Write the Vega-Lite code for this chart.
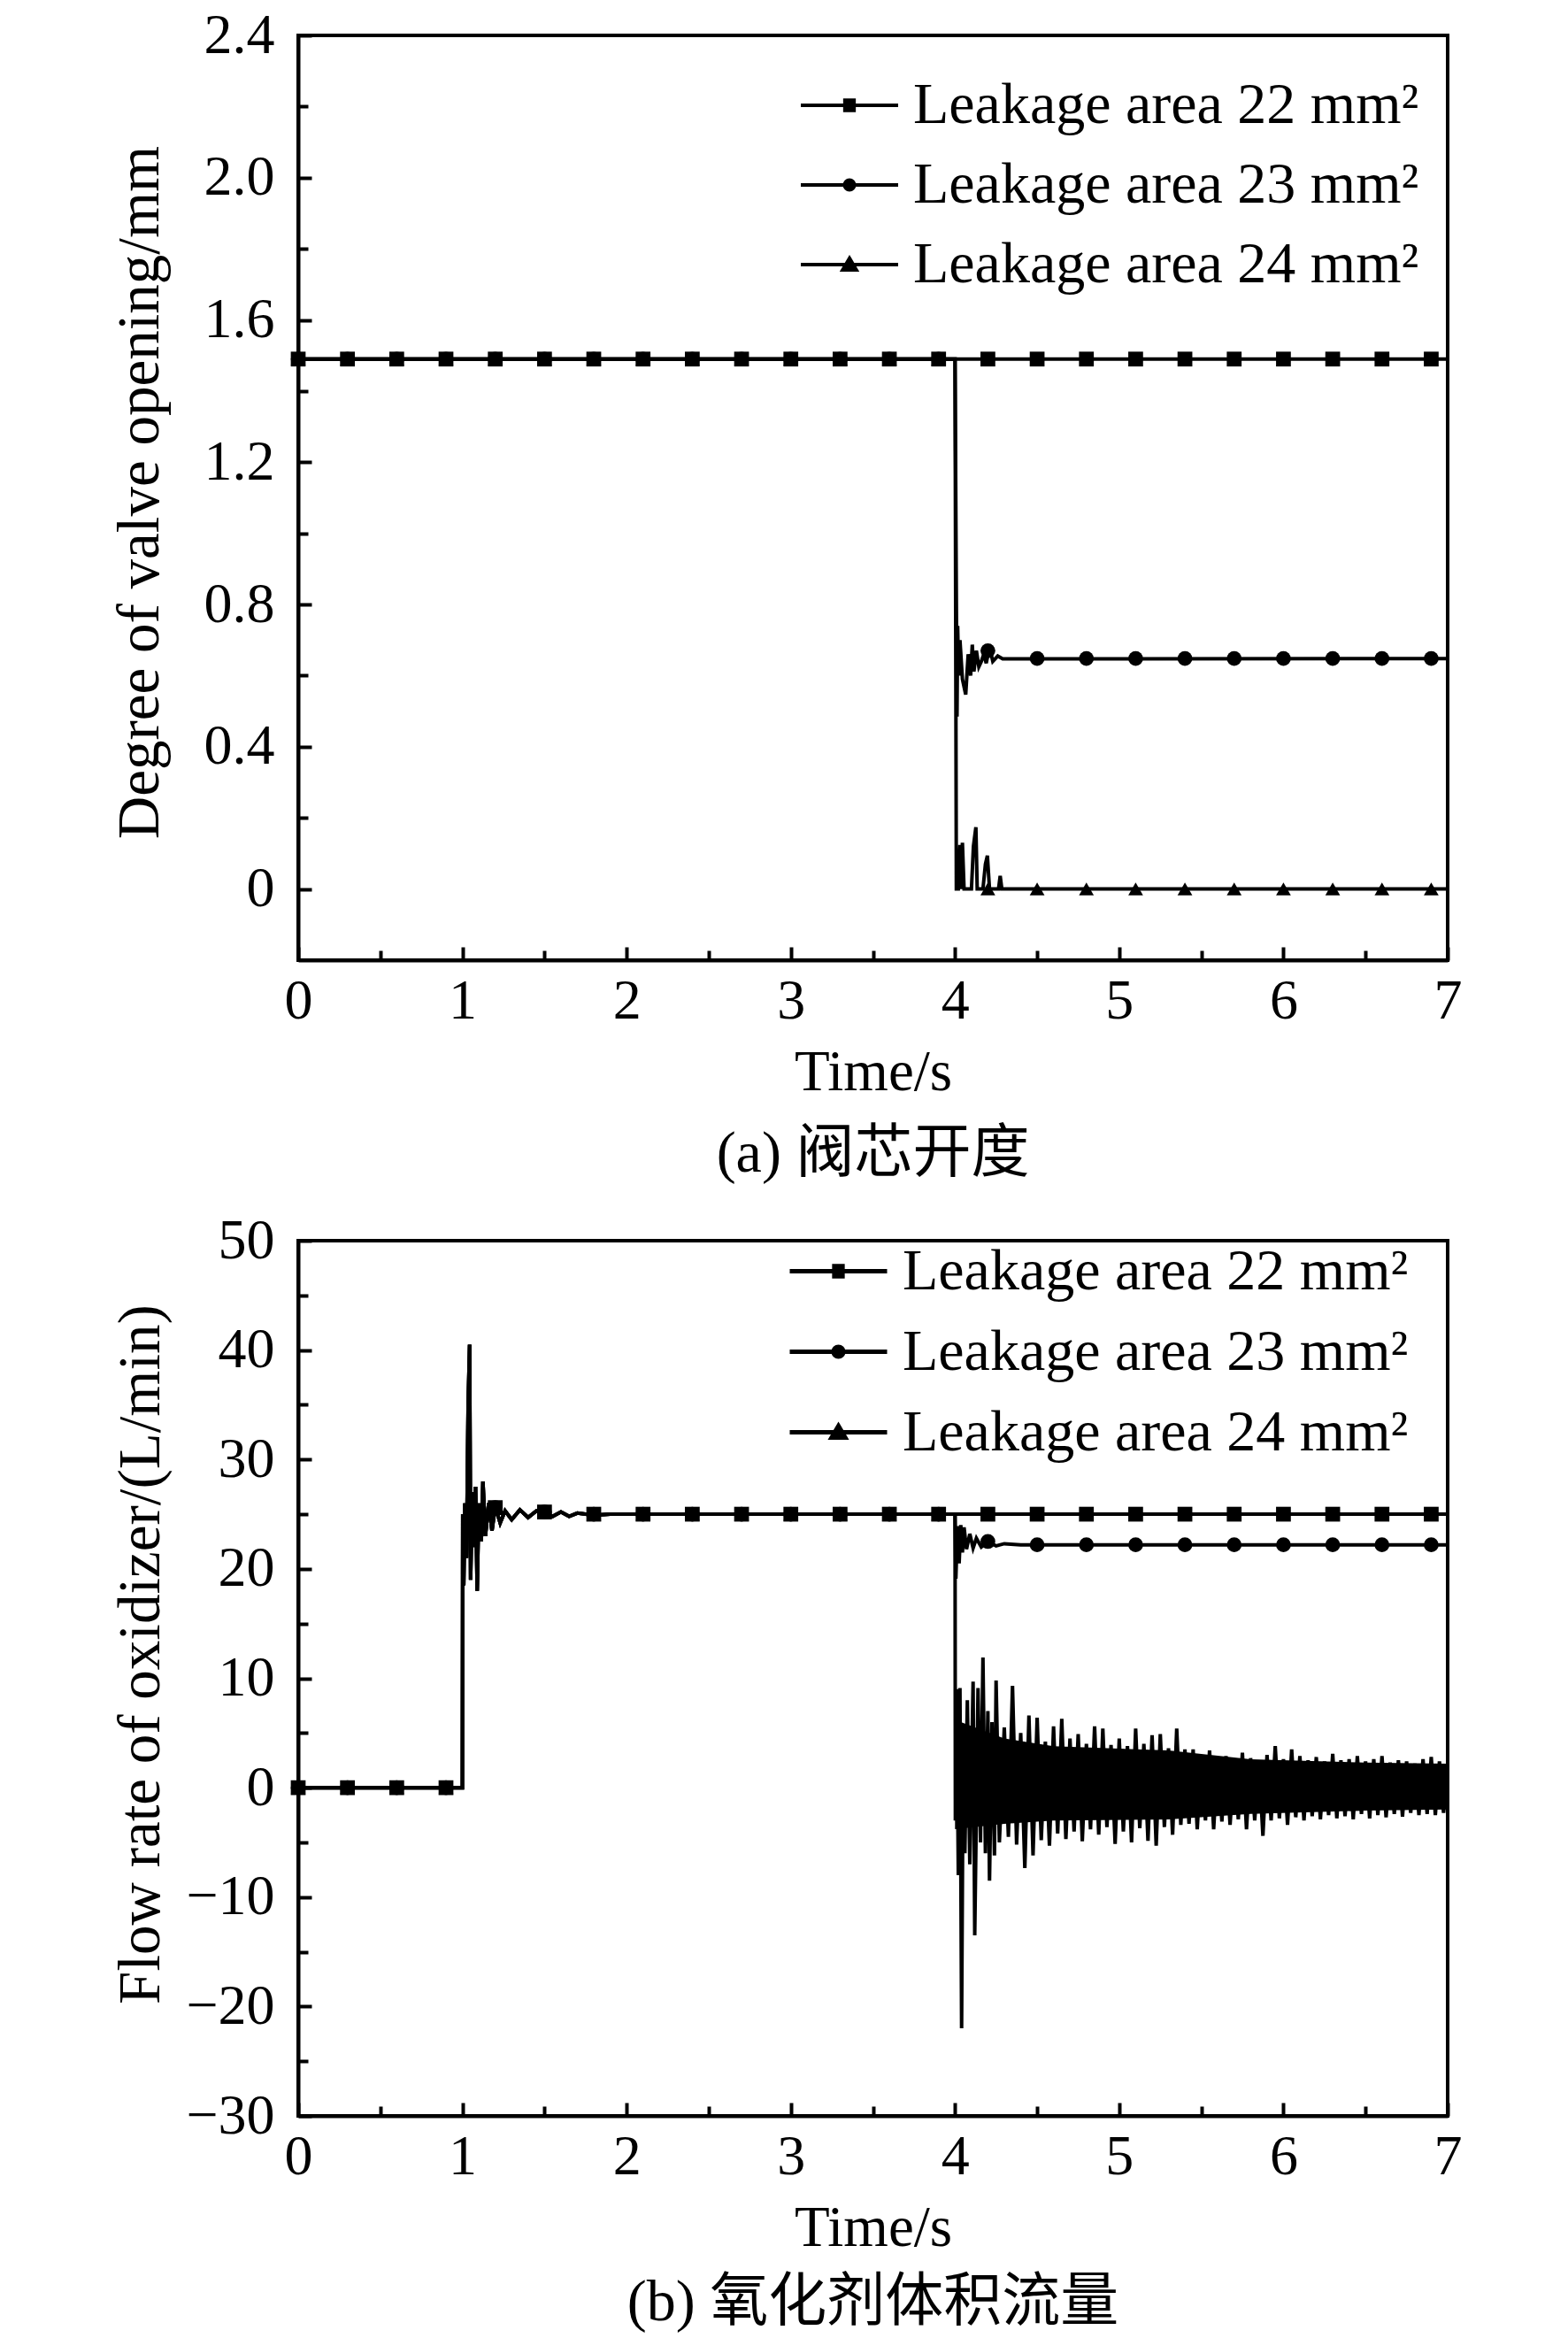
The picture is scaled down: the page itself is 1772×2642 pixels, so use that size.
{
  "$schema": "https://vega.github.io/schema/vega-lite/v6.json",
  "description": "Valve opening and oxidizer flow rate for three leakage areas",
  "background": "white",
  "padding": {"left": 122, "top": 6, "right": 0, "bottom": 0},
  "config": {
    "font": "Liberation Serif",
    "view": {"stroke": "black", "strokeWidth": 4},
    "axis": {
      "grid": false,
      "domainColor": "black",
      "domainWidth": 4,
      "tickColor": "black",
      "tickWidth": 4,
      "labelFont": "Liberation Serif",
      "labelFontSize": 64,
      "labelColor": "black",
      "labelFlush": false,
      "labelOverlap": false,
      "titleFont": "Liberation Serif",
      "titleFontSize": 65,
      "titleFontWeight": "normal",
      "titleColor": "black"
    },
    "axisY": {"titleFontSize": 67},
    "title": {"font": "Liberation Serif, Noto Sans CJK SC", "fontSize": 66, "fontWeight": "normal", "color": "black"},
    "concat": {"spacing": 29}
  },
  "datasets": {
    "valve_line": [
      {"s": 22, "t": 0, "v": 1.49}, {"s": 22, "t": 7, "v": 1.49},
      {"s": 23, "t": 0, "v": 1.49}, {"s": 23, "t": 4.0, "v": 1.49}, {"s": 23, "t": 4.012, "v": 0.485}, {"s": 23, "t": 4.016, "v": 0.74},
      {"s": 23, "t": 4.022, "v": 0.6}, {"s": 23, "t": 4.03, "v": 0.7}, {"s": 23, "t": 4.045, "v": 0.59}, {"s": 23, "t": 4.065, "v": 0.547},
      {"s": 23, "t": 4.08, "v": 0.66}, {"s": 23, "t": 4.095, "v": 0.6}, {"s": 23, "t": 4.105, "v": 0.687}, {"s": 23, "t": 4.115, "v": 0.612},
      {"s": 23, "t": 4.13, "v": 0.67}, {"s": 23, "t": 4.145, "v": 0.625}, {"s": 23, "t": 4.16, "v": 0.64}, {"s": 23, "t": 4.175, "v": 0.66},
      {"s": 23, "t": 4.19, "v": 0.635}, {"s": 23, "t": 4.21, "v": 0.68}, {"s": 23, "t": 4.23, "v": 0.64}, {"s": 23, "t": 4.26, "v": 0.655},
      {"s": 23, "t": 4.29, "v": 0.647}, {"s": 23, "t": 7, "v": 0.648},
      {"s": 24, "t": 0, "v": 1.49}, {"s": 24, "t": 4.0, "v": 1.49}, {"s": 24, "t": 4.008, "v": 0}, {"s": 24, "t": 4.02, "v": 0},
      {"s": 24, "t": 4.03, "v": 0.124}, {"s": 24, "t": 4.036, "v": 0}, {"s": 24, "t": 4.045, "v": 0.13}, {"s": 24, "t": 4.055, "v": 0},
      {"s": 24, "t": 4.1, "v": 0}, {"s": 24, "t": 4.112, "v": 0.12}, {"s": 24, "t": 4.127, "v": 0.174}, {"s": 24, "t": 4.135, "v": 0},
      {"s": 24, "t": 4.17, "v": 0}, {"s": 24, "t": 4.185, "v": 0.07}, {"s": 24, "t": 4.197, "v": 0.094}, {"s": 24, "t": 4.21, "v": 0},
      {"s": 24, "t": 4.265, "v": 0}, {"s": 24, "t": 4.275, "v": 0.037}, {"s": 24, "t": 4.285, "v": 0}, {"s": 24, "t": 7, "v": 0}
    ],
    "valve_marks": [
      {"s": 22, "t": 0, "v": 1.49}, {"s": 22, "t": 0.3, "v": 1.49}, {"s": 22, "t": 0.6, "v": 1.49}, {"s": 22, "t": 0.9, "v": 1.49},
      {"s": 22, "t": 1.2, "v": 1.49}, {"s": 22, "t": 1.5, "v": 1.49}, {"s": 22, "t": 1.8, "v": 1.49}, {"s": 22, "t": 2.1, "v": 1.49},
      {"s": 22, "t": 2.4, "v": 1.49}, {"s": 22, "t": 2.7, "v": 1.49}, {"s": 22, "t": 3.0, "v": 1.49}, {"s": 22, "t": 3.3, "v": 1.49},
      {"s": 22, "t": 3.6, "v": 1.49}, {"s": 22, "t": 3.9, "v": 1.49}, {"s": 22, "t": 4.2, "v": 1.49}, {"s": 22, "t": 4.5, "v": 1.49},
      {"s": 22, "t": 4.8, "v": 1.49}, {"s": 22, "t": 5.1, "v": 1.49}, {"s": 22, "t": 5.4, "v": 1.49}, {"s": 22, "t": 5.7, "v": 1.49},
      {"s": 22, "t": 6.0, "v": 1.49}, {"s": 22, "t": 6.3, "v": 1.49}, {"s": 22, "t": 6.6, "v": 1.49}, {"s": 22, "t": 6.9, "v": 1.49},
      {"s": 23, "t": 0, "v": 1.49}, {"s": 23, "t": 0.3, "v": 1.49}, {"s": 23, "t": 0.6, "v": 1.49}, {"s": 23, "t": 0.9, "v": 1.49},
      {"s": 23, "t": 1.2, "v": 1.49}, {"s": 23, "t": 1.5, "v": 1.49}, {"s": 23, "t": 1.8, "v": 1.49}, {"s": 23, "t": 2.1, "v": 1.49},
      {"s": 23, "t": 2.4, "v": 1.49}, {"s": 23, "t": 2.7, "v": 1.49}, {"s": 23, "t": 3.0, "v": 1.49}, {"s": 23, "t": 3.3, "v": 1.49},
      {"s": 23, "t": 3.6, "v": 1.49}, {"s": 23, "t": 3.9, "v": 1.49}, {"s": 23, "t": 4.2, "v": 0.67}, {"s": 23, "t": 4.5, "v": 0.648},
      {"s": 23, "t": 4.8, "v": 0.648}, {"s": 23, "t": 5.1, "v": 0.648}, {"s": 23, "t": 5.4, "v": 0.648}, {"s": 23, "t": 5.7, "v": 0.648},
      {"s": 23, "t": 6.0, "v": 0.648}, {"s": 23, "t": 6.3, "v": 0.648}, {"s": 23, "t": 6.6, "v": 0.648}, {"s": 23, "t": 6.9, "v": 0.648},
      {"s": 24, "t": 0, "v": 1.49}, {"s": 24, "t": 0.3, "v": 1.49}, {"s": 24, "t": 0.6, "v": 1.49}, {"s": 24, "t": 0.9, "v": 1.49},
      {"s": 24, "t": 1.2, "v": 1.49}, {"s": 24, "t": 1.5, "v": 1.49}, {"s": 24, "t": 1.8, "v": 1.49}, {"s": 24, "t": 2.1, "v": 1.49},
      {"s": 24, "t": 2.4, "v": 1.49}, {"s": 24, "t": 2.7, "v": 1.49}, {"s": 24, "t": 3.0, "v": 1.49}, {"s": 24, "t": 3.3, "v": 1.49},
      {"s": 24, "t": 3.6, "v": 1.49}, {"s": 24, "t": 3.9, "v": 1.49}, {"s": 24, "t": 4.2, "v": 0}, {"s": 24, "t": 4.5, "v": 0},
      {"s": 24, "t": 4.8, "v": 0}, {"s": 24, "t": 5.1, "v": 0}, {"s": 24, "t": 5.4, "v": 0}, {"s": 24, "t": 5.7, "v": 0},
      {"s": 24, "t": 6.0, "v": 0}, {"s": 24, "t": 6.3, "v": 0}, {"s": 24, "t": 6.6, "v": 0}, {"s": 24, "t": 6.9, "v": 0}
    ],
    "flow_line": [
      {"s": 22, "t": 0, "v": 0}, {"s": 22, "t": 1.0, "v": 0}, {"s": 22, "t": 1.002, "v": 25}, {"s": 22, "t": 1.008, "v": 18.5},
      {"s": 22, "t": 1.015, "v": 26}, {"s": 22, "t": 1.025, "v": 21}, {"s": 22, "t": 1.035, "v": 35}, {"s": 22, "t": 1.044, "v": 40.5},
      {"s": 22, "t": 1.05, "v": 19}, {"s": 22, "t": 1.06, "v": 27}, {"s": 22, "t": 1.07, "v": 22}, {"s": 22, "t": 1.08, "v": 27.5},
      {"s": 22, "t": 1.09, "v": 18}, {"s": 22, "t": 1.1, "v": 26}, {"s": 22, "t": 1.115, "v": 22.5}, {"s": 22, "t": 1.125, "v": 28},
      {"s": 22, "t": 1.14, "v": 23}, {"s": 22, "t": 1.16, "v": 26}, {"s": 22, "t": 1.18, "v": 23.5}, {"s": 22, "t": 1.2, "v": 25.7},
      {"s": 22, "t": 1.23, "v": 24.2}, {"s": 22, "t": 1.26, "v": 25.3}, {"s": 22, "t": 1.3, "v": 24.5}, {"s": 22, "t": 1.35, "v": 25.4},
      {"s": 22, "t": 1.4, "v": 24.7}, {"s": 22, "t": 1.45, "v": 25.3}, {"s": 22, "t": 1.5, "v": 25.1}, {"s": 22, "t": 1.55, "v": 24.8},
      {"s": 22, "t": 1.6, "v": 25.2}, {"s": 22, "t": 1.65, "v": 24.8}, {"s": 22, "t": 1.7, "v": 25.1}, {"s": 22, "t": 1.8, "v": 24.9},
      {"s": 22, "t": 1.9, "v": 25}, {"s": 22, "t": 7, "v": 25},
      {"s": 23, "t": 0, "v": 0}, {"s": 23, "t": 1.0, "v": 0}, {"s": 23, "t": 1.002, "v": 25}, {"s": 23, "t": 1.008, "v": 18.5},
      {"s": 23, "t": 1.015, "v": 26}, {"s": 23, "t": 1.025, "v": 21}, {"s": 23, "t": 1.035, "v": 35}, {"s": 23, "t": 1.044, "v": 40.5},
      {"s": 23, "t": 1.05, "v": 19}, {"s": 23, "t": 1.06, "v": 27}, {"s": 23, "t": 1.07, "v": 22}, {"s": 23, "t": 1.08, "v": 27.5},
      {"s": 23, "t": 1.09, "v": 18}, {"s": 23, "t": 1.1, "v": 26}, {"s": 23, "t": 1.115, "v": 22.5}, {"s": 23, "t": 1.125, "v": 28},
      {"s": 23, "t": 1.14, "v": 23}, {"s": 23, "t": 1.16, "v": 26}, {"s": 23, "t": 1.18, "v": 23.5}, {"s": 23, "t": 1.2, "v": 25.7},
      {"s": 23, "t": 1.23, "v": 24.2}, {"s": 23, "t": 1.26, "v": 25.3}, {"s": 23, "t": 1.3, "v": 24.5}, {"s": 23, "t": 1.35, "v": 25.4},
      {"s": 23, "t": 1.4, "v": 24.7}, {"s": 23, "t": 1.45, "v": 25.3}, {"s": 23, "t": 1.5, "v": 25.1}, {"s": 23, "t": 1.55, "v": 24.8},
      {"s": 23, "t": 1.6, "v": 25.2}, {"s": 23, "t": 1.65, "v": 24.8}, {"s": 23, "t": 1.7, "v": 25.1}, {"s": 23, "t": 1.8, "v": 24.9},
      {"s": 23, "t": 1.9, "v": 25}, {"s": 23, "t": 4.0, "v": 25}, {"s": 23, "t": 4.005, "v": 19.1}, {"s": 23, "t": 4.015, "v": 23.9},
      {"s": 23, "t": 4.025, "v": 20.5}, {"s": 23, "t": 4.035, "v": 24}, {"s": 23, "t": 4.045, "v": 21.5}, {"s": 23, "t": 4.055, "v": 23.8},
      {"s": 23, "t": 4.07, "v": 21.8}, {"s": 23, "t": 4.09, "v": 23.2}, {"s": 23, "t": 4.11, "v": 21.9}, {"s": 23, "t": 4.13, "v": 22.8},
      {"s": 23, "t": 4.16, "v": 22}, {"s": 23, "t": 4.2, "v": 22.5}, {"s": 23, "t": 4.25, "v": 22.1}, {"s": 23, "t": 4.3, "v": 22.3},
      {"s": 23, "t": 4.4, "v": 22.2}, {"s": 23, "t": 7, "v": 22.2},
      {"s": 24, "t": 0, "v": 0}, {"s": 24, "t": 1.0, "v": 0}, {"s": 24, "t": 1.002, "v": 25}, {"s": 24, "t": 1.008, "v": 18.5},
      {"s": 24, "t": 1.015, "v": 26}, {"s": 24, "t": 1.025, "v": 21}, {"s": 24, "t": 1.035, "v": 35}, {"s": 24, "t": 1.044, "v": 40.5},
      {"s": 24, "t": 1.05, "v": 19}, {"s": 24, "t": 1.06, "v": 27}, {"s": 24, "t": 1.07, "v": 22}, {"s": 24, "t": 1.08, "v": 27.5},
      {"s": 24, "t": 1.09, "v": 18}, {"s": 24, "t": 1.1, "v": 26}, {"s": 24, "t": 1.115, "v": 22.5}, {"s": 24, "t": 1.125, "v": 28},
      {"s": 24, "t": 1.14, "v": 23}, {"s": 24, "t": 1.16, "v": 26}, {"s": 24, "t": 1.18, "v": 23.5}, {"s": 24, "t": 1.2, "v": 25.7},
      {"s": 24, "t": 1.23, "v": 24.2}, {"s": 24, "t": 1.26, "v": 25.3}, {"s": 24, "t": 1.3, "v": 24.5}, {"s": 24, "t": 1.35, "v": 25.4},
      {"s": 24, "t": 1.4, "v": 24.7}, {"s": 24, "t": 1.45, "v": 25.3}, {"s": 24, "t": 1.5, "v": 25.1}, {"s": 24, "t": 1.55, "v": 24.8},
      {"s": 24, "t": 1.6, "v": 25.2}, {"s": 24, "t": 1.65, "v": 24.8}, {"s": 24, "t": 1.7, "v": 25.1}, {"s": 24, "t": 1.8, "v": 24.9},
      {"s": 24, "t": 1.9, "v": 25}, {"s": 24, "t": 4.0, "v": 25},
      {"s": 24, "t": 4.002, "v": -3}, {"s": 24, "t": 4.01, "v": 9}, {"s": 24, "t": 4.02, "v": -8}, {"s": 24, "t": 4.03, "v": 9.1},
      {"s": 24, "t": 4.04, "v": -22}, {"s": 24, "t": 4.05, "v": 5}, {"s": 24, "t": 4.06, "v": -6}, {"s": 24, "t": 4.075, "v": 8},
      {"s": 24, "t": 4.09, "v": -7}, {"s": 24, "t": 4.11, "v": 9.7}, {"s": 24, "t": 4.12, "v": -13.5}, {"s": 24, "t": 4.14, "v": 9.1},
      {"s": 24, "t": 4.155, "v": -5}, {"s": 24, "t": 4.17, "v": 11.9}, {"s": 24, "t": 4.185, "v": -6}, {"s": 24, "t": 4.2, "v": 7},
      {"s": 24, "t": 4.21, "v": -8.5}, {"s": 24, "t": 4.225, "v": 6}, {"s": 24, "t": 4.24, "v": -6.2}, {"s": 24, "t": 4.25, "v": 9.8},
      {"s": 24, "t": 4.27, "v": -5}, {"s": 24, "t": 4.3, "v": 5.5}, {"s": 24, "t": 4.325, "v": -4.5}, {"s": 24, "t": 4.35, "v": 9.3},
      {"s": 24, "t": 4.375, "v": -5.2}, {"s": 24, "t": 4.4, "v": 5.0}, {"s": 24, "t": 4.425, "v": -7.35}, {"s": 24, "t": 4.45, "v": 6.6},
      {"s": 24, "t": 4.475, "v": -6.2}, {"s": 24, "t": 4.5, "v": 6.4}, {"s": 24, "t": 4.525, "v": -4.8}, {"s": 24, "t": 4.55, "v": 4.2},
      {"s": 24, "t": 4.575, "v": -5.3}, {"s": 24, "t": 4.6, "v": 5.6}, {"s": 24, "t": 4.625, "v": -4.2}, {"s": 24, "t": 4.65, "v": 6.3},
      {"s": 24, "t": 4.675, "v": -4.7}, {"s": 24, "t": 4.7, "v": 4.5}, {"s": 24, "t": 4.725, "v": -4.0}, {"s": 24, "t": 4.75, "v": 4.9},
      {"s": 24, "t": 4.775, "v": -4.9}, {"s": 24, "t": 4.8, "v": 4.0}, {"s": 24, "t": 4.825, "v": -3.8}, {"s": 24, "t": 4.85, "v": 5.6},
      {"s": 24, "t": 4.875, "v": -4.3}, {"s": 24, "t": 4.9, "v": 5.4}, {"s": 24, "t": 4.925, "v": -3.6}, {"s": 24, "t": 4.95, "v": 3.9},
      {"s": 24, "t": 4.975, "v": -5.15}, {"s": 24, "t": 5.0, "v": 4.5}, {"s": 24, "t": 5.025, "v": -4.0}, {"s": 24, "t": 5.05, "v": 3.8},
      {"s": 24, "t": 5.075, "v": -5.0}, {"s": 24, "t": 5.1, "v": 5.4}, {"s": 24, "t": 5.125, "v": -3.7}, {"s": 24, "t": 5.15, "v": 4.0},
      {"s": 24, "t": 5.175, "v": -4.85}, {"s": 24, "t": 5.2, "v": 4.8}, {"s": 24, "t": 5.225, "v": -5.3}, {"s": 24, "t": 5.25, "v": 4.9},
      {"s": 24, "t": 5.275, "v": -3.6}, {"s": 24, "t": 5.3, "v": 3.6}, {"s": 24, "t": 5.325, "v": -4.3}, {"s": 24, "t": 5.35, "v": 5.4},
      {"s": 24, "t": 5.375, "v": -3.4}, {"s": 24, "t": 5.4, "v": 3.5}, {"s": 24, "t": 5.425, "v": -3.3}, {"s": 24, "t": 5.45, "v": 3.5},
      {"s": 24, "t": 5.475, "v": -3.8}, {"s": 24, "t": 5.5, "v": 3.0}, {"s": 24, "t": 5.525, "v": -3.0}, {"s": 24, "t": 5.55, "v": 3.4},
      {"s": 24, "t": 5.575, "v": -3.8}, {"s": 24, "t": 5.6, "v": 2.8}, {"s": 24, "t": 5.625, "v": -3.1}, {"s": 24, "t": 5.65, "v": 2.9},
      {"s": 24, "t": 5.675, "v": -3.4}, {"s": 24, "t": 5.7, "v": 2.6}, {"s": 24, "t": 5.725, "v": -2.9}, {"s": 24, "t": 5.75, "v": 3.2},
      {"s": 24, "t": 5.775, "v": -3.8}, {"s": 24, "t": 5.8, "v": 2.7}, {"s": 24, "t": 5.825, "v": -3.0}, {"s": 24, "t": 5.85, "v": 2.5},
      {"s": 24, "t": 5.875, "v": -4.4}, {"s": 24, "t": 5.9, "v": 3.0}, {"s": 24, "t": 5.925, "v": -3.0}, {"s": 24, "t": 5.95, "v": 3.8},
      {"s": 24, "t": 5.975, "v": -2.8}, {"s": 24, "t": 6.0, "v": 2.6}, {"s": 24, "t": 6.025, "v": -3.4}, {"s": 24, "t": 6.05, "v": 3.5},
      {"s": 24, "t": 6.075, "v": -2.7}, {"s": 24, "t": 6.1, "v": 2.9}, {"s": 24, "t": 6.125, "v": -3.0}, {"s": 24, "t": 6.15, "v": 2.5},
      {"s": 24, "t": 6.175, "v": -2.6}, {"s": 24, "t": 6.2, "v": 2.8}, {"s": 24, "t": 6.225, "v": -2.9}, {"s": 24, "t": 6.25, "v": 2.4},
      {"s": 24, "t": 6.275, "v": -2.5}, {"s": 24, "t": 6.3, "v": 3.1}, {"s": 24, "t": 6.325, "v": -2.8}, {"s": 24, "t": 6.35, "v": 2.5},
      {"s": 24, "t": 6.375, "v": -2.6}, {"s": 24, "t": 6.4, "v": 2.6}, {"s": 24, "t": 6.425, "v": -2.9}, {"s": 24, "t": 6.45, "v": 2.9},
      {"s": 24, "t": 6.475, "v": -2.4}, {"s": 24, "t": 6.5, "v": 2.4}, {"s": 24, "t": 6.525, "v": -2.8}, {"s": 24, "t": 6.55, "v": 2.6},
      {"s": 24, "t": 6.575, "v": -2.5}, {"s": 24, "t": 6.6, "v": 2.9}, {"s": 24, "t": 6.625, "v": -2.7}, {"s": 24, "t": 6.65, "v": 2.3},
      {"s": 24, "t": 6.675, "v": -2.4}, {"s": 24, "t": 6.7, "v": 2.5}, {"s": 24, "t": 6.725, "v": -2.65}, {"s": 24, "t": 6.75, "v": 2.4},
      {"s": 24, "t": 6.775, "v": -2.3}, {"s": 24, "t": 6.8, "v": 2.2}, {"s": 24, "t": 6.825, "v": -2.5}, {"s": 24, "t": 6.85, "v": 2.6},
      {"s": 24, "t": 6.875, "v": -2.4}, {"s": 24, "t": 6.9, "v": 2.8}, {"s": 24, "t": 6.925, "v": -2.5}, {"s": 24, "t": 6.95, "v": 2.4},
      {"s": 24, "t": 6.975, "v": -2.3}, {"s": 24, "t": 7.0, "v": 1.5}
    ],
    "flow_band": [
      {"t": 4.0, "lo": -3.8, "hi": 6.2}, {"t": 4.3, "lo": -3.3, "hi": 4.5}, {"t": 4.6, "lo": -3.0, "hi": 3.8},
      {"t": 5.3, "lo": -2.9, "hi": 3.4}, {"t": 5.8, "lo": -2.4, "hi": 2.6}, {"t": 6.5, "lo": -2.1, "hi": 2.3},
      {"t": 7.0, "lo": -2.0, "hi": 2.2}
    ],
    "flow_marks": [
      {"s": 22, "t": 0, "v": 0}, {"s": 22, "t": 0.3, "v": 0}, {"s": 22, "t": 0.6, "v": 0}, {"s": 22, "t": 0.9, "v": 0},
      {"s": 22, "t": 1.2, "v": 25.6}, {"s": 22, "t": 1.5, "v": 25.2}, {"s": 22, "t": 1.8, "v": 25}, {"s": 22, "t": 2.1, "v": 25},
      {"s": 22, "t": 2.4, "v": 25}, {"s": 22, "t": 2.7, "v": 25}, {"s": 22, "t": 3.0, "v": 25}, {"s": 22, "t": 3.3, "v": 25},
      {"s": 22, "t": 3.6, "v": 25}, {"s": 22, "t": 3.9, "v": 25}, {"s": 22, "t": 4.2, "v": 25}, {"s": 22, "t": 4.5, "v": 25},
      {"s": 22, "t": 4.8, "v": 25}, {"s": 22, "t": 5.1, "v": 25}, {"s": 22, "t": 5.4, "v": 25}, {"s": 22, "t": 5.7, "v": 25},
      {"s": 22, "t": 6.0, "v": 25}, {"s": 22, "t": 6.3, "v": 25}, {"s": 22, "t": 6.6, "v": 25}, {"s": 22, "t": 6.9, "v": 25},
      {"s": 23, "t": 0, "v": 0}, {"s": 23, "t": 0.3, "v": 0}, {"s": 23, "t": 0.6, "v": 0}, {"s": 23, "t": 0.9, "v": 0},
      {"s": 23, "t": 1.2, "v": 25.6}, {"s": 23, "t": 1.5, "v": 25.2}, {"s": 23, "t": 1.8, "v": 25}, {"s": 23, "t": 2.1, "v": 25},
      {"s": 23, "t": 2.4, "v": 25}, {"s": 23, "t": 2.7, "v": 25}, {"s": 23, "t": 3.0, "v": 25}, {"s": 23, "t": 3.3, "v": 25},
      {"s": 23, "t": 3.6, "v": 25}, {"s": 23, "t": 3.9, "v": 25}, {"s": 23, "t": 4.2, "v": 22.5}, {"s": 23, "t": 4.5, "v": 22.2},
      {"s": 23, "t": 4.8, "v": 22.2}, {"s": 23, "t": 5.1, "v": 22.2}, {"s": 23, "t": 5.4, "v": 22.2}, {"s": 23, "t": 5.7, "v": 22.2},
      {"s": 23, "t": 6.0, "v": 22.2}, {"s": 23, "t": 6.3, "v": 22.2}, {"s": 23, "t": 6.6, "v": 22.2}, {"s": 23, "t": 6.9, "v": 22.2},
      {"s": 24, "t": 0, "v": 0}, {"s": 24, "t": 0.3, "v": 0}, {"s": 24, "t": 0.6, "v": 0}, {"s": 24, "t": 0.9, "v": 0},
      {"s": 24, "t": 1.2, "v": 25.6}, {"s": 24, "t": 1.5, "v": 25.2}, {"s": 24, "t": 1.8, "v": 25}, {"s": 24, "t": 2.1, "v": 25},
      {"s": 24, "t": 2.4, "v": 25}, {"s": 24, "t": 2.7, "v": 25}, {"s": 24, "t": 3.0, "v": 25}, {"s": 24, "t": 3.3, "v": 25},
      {"s": 24, "t": 3.6, "v": 25}, {"s": 24, "t": 3.9, "v": 25}, {"s": 24, "t": 4.2, "v": 0}, {"s": 24, "t": 4.5, "v": 0},
      {"s": 24, "t": 4.8, "v": 0}, {"s": 24, "t": 5.1, "v": 0}, {"s": 24, "t": 5.4, "v": 0}, {"s": 24, "t": 5.7, "v": 0},
      {"s": 24, "t": 6.0, "v": 0}, {"s": 24, "t": 6.3, "v": 0}, {"s": 24, "t": 6.6, "v": 0}, {"s": 24, "t": 6.9, "v": 0}
    ]
  },
  "vconcat": [
    {
      "width": 1299,
      "height": 1045,
      "title": {"text": "(a) 阀芯开度", "orient": "bottom", "anchor": "middle", "offset": 28},
      "encoding": {
        "x": {
          "field": "t", "type": "quantitative", "title": "Time/s",
          "scale": {"domain": [0, 7], "nice": false},
          "axis": {
            "values": [0, 0.5, 1, 1.5, 2, 2.5, 3, 3.5, 4, 4.5, 5, 5.5, 6, 6.5, 7],
            "labelExpr": "datum.value % 1 === 0 ? format(datum.value, 'd') : ''",
            "tickSize": {"condition": {"test": "datum.value % 1 === 0", "value": -15}, "value": -11},
            "labelPadding": 29, "titlePadding": 13
          }
        },
        "y": {
          "field": "v", "type": "quantitative", "title": "Degree of valve opening/mm",
          "scale": {"domain": [-0.2, 2.4], "nice": false, "zero": false},
          "axis": {
            "values": [0, 0.2, 0.4, 0.6, 0.8, 1.0, 1.2, 1.4, 1.6, 1.8, 2.0, 2.2, 2.4],
            "labelExpr": "round(datum.value * 10) % 4 === 0 ? (datum.value === 0 ? '0' : format(datum.value, '.1f')) : ''",
            "tickSize": {"condition": {"test": "round(datum.value * 10) % 4 === 0", "value": -15}, "value": -11},
            "labelPadding": 42, "titlePadding": 38, "titleY": 516
          }
        }
      },
      "layer": [
        {
          "data": {"name": "valve_line"},
          "mark": {"type": "line", "color": "black", "strokeWidth": 4, "clip": true},
          "encoding": {"detail": {"field": "s"}}
        },
        {
          "data": {"name": "valve_marks"},
          "mark": {"type": "point", "filled": true, "color": "black", "size": 280, "opacity": 1},
          "encoding": {
            "shape": {"field": "s", "type": "nominal", "scale": {"domain": [22, 23, 24], "range": ["square", "circle", "triangle-up"]}, "legend": null}
          }
        },
        {
          "data": {"name": "valve_marks"},
          "mark": {"type": "point", "filled": false, "color": "black", "strokeWidth": 4, "opacity": 0},
          "encoding": {
            "shape": {
              "field": "s", "type": "nominal",
              "scale": {"domain": [22, 23, 24], "range": [
                "M-1,0H1M-0.13,-0.105H0.13M-0.13,-0.035H0.13M-0.13,0.035H0.13M-0.13,0.105H0.13",
                "M-1,0H1M-0.1,0A0.1,0.1,0,1,1,0.1,0A0.1,0.1,0,1,1,-0.1,0M-0.11,-0.045H0.11M-0.11,0.045H0.11",
                "M-1,0H1M0,-0.13L0.14,0.11H-0.14ZM-0.125,0.09H0.125M-0.09,0.03H0.09M-0.055,-0.03H0.055M-0.02,-0.09H0.02"
              ]},
              "legend": {
                "title": null, "orient": "none", "legendX": 566, "legendY": 22, "padding": 0,
                "symbolSize": 12100, "symbolStrokeWidth": 4, "symbolStrokeColor": "black", "symbolFillColor": "transparent", "symbolOpacity": 1,
                "labelFont": "Liberation Serif", "labelFontSize": 66, "labelColor": "black", "labelOffset": 15, "labelLimit": 0,
                "rowPadding": 0,
                "labelExpr": "'Leakage area ' + datum.label + ' mm²'",
                "encode": {"symbols": {"update": {"opacity": {"value": 1}, "stroke": {"value": "black"}, "strokeWidth": {"value": 4}}}}
              }
            }
          }
        }
      ],
      "resolve": {"scale": {"shape": "independent"}}
    },
    {
      "width": 1299,
      "height": 989,
      "title": {"text": "(b) 氧化剂体积流量", "orient": "bottom", "anchor": "middle", "offset": 20},
      "encoding": {
        "x": {
          "field": "t", "type": "quantitative", "title": "Time/s",
          "scale": {"domain": [0, 7], "nice": false},
          "axis": {
            "values": [0, 0.5, 1, 1.5, 2, 2.5, 3, 3.5, 4, 4.5, 5, 5.5, 6, 6.5, 7],
            "labelExpr": "datum.value % 1 === 0 ? format(datum.value, 'd') : ''",
            "tickSize": {"condition": {"test": "datum.value % 1 === 0", "value": -15}, "value": -11},
            "labelPadding": 29, "titlePadding": 13
          }
        },
        "y": {
          "field": "v", "type": "quantitative", "title": "Flow rate of oxidizer/(L/min)",
          "scale": {"domain": [-30, 50], "nice": false, "zero": false},
          "axis": {
            "values": [-30, -25, -20, -15, -10, -5, 0, 5, 10, 15, 20, 25, 30, 35, 40, 45, 50],
            "labelExpr": "datum.value % 10 === 0 ? datum.label : ''",
            "tickSize": {"condition": {"test": "datum.value % 10 === 0", "value": -15}, "value": -11},
            "labelPadding": 42, "titlePadding": 16, "titleY": 467
          }
        }
      },
      "layer": [
        {
          "data": {"name": "flow_band"},
          "mark": {"type": "area", "color": "black", "clip": true},
          "encoding": {"y": {"field": "lo", "type": "quantitative"}, "y2": {"field": "hi"}}
        },
        {
          "data": {"name": "flow_line"},
          "mark": {"type": "line", "color": "black", "strokeWidth": 4, "clip": true},
          "encoding": {"detail": {"field": "s"}}
        },
        {
          "data": {"name": "flow_marks"},
          "mark": {"type": "point", "filled": true, "color": "black", "size": 280, "opacity": 1},
          "encoding": {
            "shape": {"field": "s", "type": "nominal", "scale": {"domain": [22, 23, 24], "range": ["square", "circle", "triangle-up"]}, "legend": null}
          }
        },
        {
          "data": {"name": "flow_marks"},
          "mark": {"type": "point", "filled": false, "color": "black", "strokeWidth": 5, "opacity": 0},
          "encoding": {
            "shape": {
              "field": "s", "type": "nominal",
              "scale": {"domain": [22, 23, 24], "range": [
                "M-1,0H1M-0.13,-0.105H0.13M-0.13,-0.035H0.13M-0.13,0.035H0.13M-0.13,0.105H0.13",
                "M-1,0H1M-0.1,0A0.1,0.1,0,1,1,0.1,0A0.1,0.1,0,1,1,-0.1,0M-0.11,-0.045H0.11M-0.11,0.045H0.11",
                "M-1,0H1M0,-0.13L0.14,0.11H-0.14ZM-0.125,0.09H0.125M-0.09,0.03H0.09M-0.055,-0.03H0.055M-0.02,-0.09H0.02"
              ]},
              "legend": {
                "title": null, "orient": "none", "legendX": 553, "legendY": -23, "padding": 0,
                "symbolSize": 12100, "symbolStrokeWidth": 5, "symbolStrokeColor": "black", "symbolFillColor": "transparent", "symbolOpacity": 1,
                "labelFont": "Liberation Serif", "labelFontSize": 66, "labelColor": "black", "labelOffset": 15, "labelLimit": 0,
                "rowPadding": 0,
                "labelExpr": "'Leakage area ' + datum.label + ' mm²'",
                "encode": {"symbols": {"update": {"opacity": {"value": 1}, "stroke": {"value": "black"}, "strokeWidth": {"value": 5}}}}
              }
            }
          }
        }
      ],
      "resolve": {"scale": {"shape": "independent"}}
    }
  ]
}
